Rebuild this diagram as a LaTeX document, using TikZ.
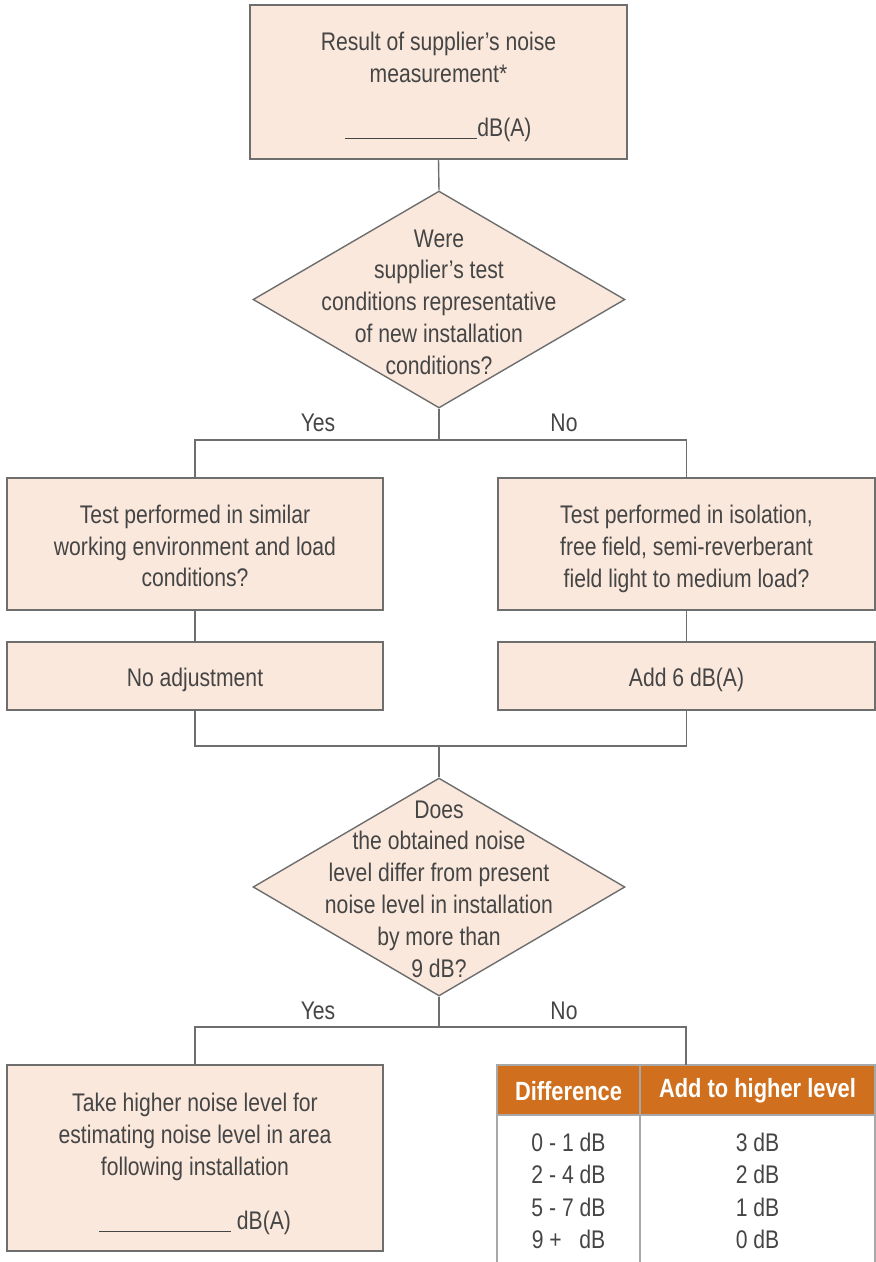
\documentclass[tikz,border=0pt]{standalone}
\usepackage{fontspec}
\setmainfont{Liberation Sans}[FakeStretch=0.83]
\usetikzlibrary{shapes.geometric}
\definecolor{boxfill}{HTML}{FAE8DC}
\definecolor{boxline}{HTML}{6E6E6E}
\definecolor{txtgray}{HTML}{454545}
\definecolor{hdrorange}{HTML}{D0701E}
\definecolor{tabline}{HTML}{A8A8A8}
\tikzset{
  stepbox/.style={draw=boxline, fill=boxfill, line width=0.8pt, inner sep=0pt},
  boxtext/.style={align=center, yshift=-2.3pt},
  decision/.style={diamond, draw=boxline, fill=boxfill, line width=0.8pt, inner sep=0pt,
    minimum width=7.44cm, minimum height=4.34cm},
  link/.style={draw=boxline, line width=0.8pt},
  answer/.style={text=txtgray},
  hdrtext/.style={text=white, font=\fontsize{15}{18}\selectfont\bfseries}
}
\newcommand{\fillin}{\rule[-1pt]{2.64cm}{0.5pt}}
\begin{document}
\begin{tikzpicture}[x=0.02cm, y=-0.02cm, text=txtgray, font=\fontsize{14.5}{18.1}\selectfont]
  \useasboundingbox (0,0) rectangle (876,1262);
  % upper half
  \node[stepbox, minimum width=7.54cm, minimum height=3.08cm] (result) at (438.5,82) {};
  \node[boxtext, yshift=-0.6pt] (resulttext) at (result)
    {Result of supplier's noise\\ measurement*\\[13pt] \fillin dB(A)};
  \node[decision] (cond) at (439,299.5) {};
  \node[align=center] (condtext) at (439,302)
    {Were\\ supplier's test\\ conditions representative\\ of new installation\\ conditions?};
  \coordinate (split1) at (439,440);
  \node[stepbox, minimum width=7.52cm, minimum height=2.64cm] (similar) at (195,544) {};
  \node[boxtext, yshift=1.2pt] (similartext) at (similar)
    {Test performed in similar\\ working environment and load\\ conditions?};
  \node[stepbox, minimum width=7.54cm, minimum height=2.64cm] (isol) at (686.5,544) {};
  \node[boxtext, yshift=-0.6pt] (isoltext) at (isol)
    {Test performed in isolation,\\ free field, semi-reverberant\\ field light to medium load?};
  \node[stepbox, minimum width=7.52cm, minimum height=1.36cm] (noadj) at (195,676) {};
  \node[boxtext] (noadjtext) at (noadj) {No adjustment};
  \node[stepbox, minimum width=7.54cm, minimum height=1.36cm] (add6) at (686.5,676) {};
  \node[boxtext] (add6text) at (add6) {Add 6 dB(A)};
  \coordinate (merge) at (439,746);
  % lower half
  \node[decision, minimum height=4.36cm] (diff) at (439,887) {};
  \node[align=center] (difftext) at (439,889)
    {Does\\ the obtained noise\\ level differ from present\\ noise level in installation\\ by more than\\ 9 dB?};
  \coordinate (split2) at (439,1027);
  \node[stepbox, minimum width=7.52cm, minimum height=3.72cm] (higher) at (195,1158) {};
  \node[boxtext, yshift=-1.2pt] (highertext) at (higher)
    {Take higher noise level for\\ estimating noise level in area\\ following installation\\[13pt] \fillin\ dB(A)};
  \node[answer] (yes1) at (318,423) {Yes};
  \node[answer] (no1) at (564,423) {No};
  \node[answer] (yes2) at (318,1011) {Yes};
  \node[answer] (no2) at (564,1011) {No};
  % table
  \fill[hdrorange] (497,1065) rectangle (875,1115);
  \draw[tabline, line width=0.8pt] (497,1262) -- (497,1065) -- (875,1065) -- (875,1262);
  \draw[tabline, line width=0.8pt] (497,1115) -- (875,1115);
  \draw[tabline, line width=0.8pt] (640,1065) -- (640,1262);
  \node[hdrtext] (colA) at (568.5,1091) {Difference};
  \node[hdrtext] (colB) at (757.5,1091) {Add to higher level};
  \coordinate (tabtop) at (686,1065);
  \node (a1) at (568.5,1142) {0 - 1 dB};
  \node (a2) at (568.5,1174) {2 - 4 dB};
  \node (a3) at (568.5,1207) {5 - 7 dB};
  \node (a4) at (568.5,1239) {9 +\ \ \ dB};
  \node (b1) at (757.5,1142) {3 dB};
  \node (b2) at (757.5,1174) {2 dB};
  \node (b3) at (757.5,1207) {1 dB};
  \node (b4) at (757.5,1239) {0 dB};
  % connectors
  \draw[link] (result.south) -- (cond.north);
  \draw[link] (cond.south) -- (split1);
  \draw[link] (similar.north) |- (split1) -| (isol.north);
  \draw[link] (similar.south) -- (noadj.north);
  \draw[link] (isol.south) -- (add6.north);
  \draw[link] (noadj.south) |- (merge) -| (add6.south);
  \draw[link] (merge) -- (diff.north);
  \draw[link] (diff.south) -- (split2);
  \draw[link] (higher.north) |- (split2) -| (tabtop);
\end{tikzpicture}
\end{document}
